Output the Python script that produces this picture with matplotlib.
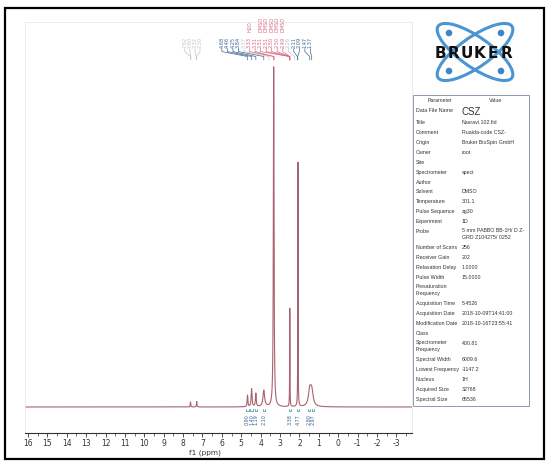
import numpy as np
import matplotlib
matplotlib.use("Agg")
import matplotlib.pyplot as plt
import matplotlib.transforms as mtransforms
from matplotlib.patches import Rectangle, Ellipse, Circle

# peak list (ppm, height relative to tallest = 100, half width in ppm)
peak_ppm = [7.62, 7.30, 4.68, 4.47, 4.25, 3.84, 3.33, 2.50, 2.08, 1.47, 1.37]
peak_height = [1.5, 1.6, 3.4, 5.3, 3.9, 4.8, 100.0, 29.0, 72.0, 4.6, 4.4]
peak_width = [0.015, 0.015, 0.02, 0.025, 0.025, 0.05, 0.02, 0.008, 0.008, 0.08, 0.08]

# integrals under the peaks
integ_ppm = [4.68, 4.47, 4.25, 3.84, 2.50, 2.08, 1.50, 1.30]
integ_vals = ['0.90', '1.40', '1.19', '2.10', '3.38', '4.77', '2.80', '2.97']

# peak picking labels on top
left_labels = ['7.62', '7.60', '7.32', '7.30']
left_targets = [7.62, 7.60, 7.32, 7.30]
right_labels = ['4.68', '4.46', '4.25', '3.84', '3.57', '3.33', '3.31', '2.51', '2.51',
                '2.50', '2.50', '2.49', '2.26', '2.11', '2.09', '1.47', '1.37']
right_targets = [4.68, 4.46, 4.25, 3.84, 3.57, 3.33, 3.31, 2.51, 2.51,
                 2.50, 2.50, 2.49, 2.26, 2.11, 2.09, 1.47, 1.37]
right_kind = ['b', 'b', 'b', 'b', 'g', 'p', 'p', 'p', 'p', 'p', 'p', 'p', 'g', 'b', 'b', 'b', 'b']
right_tags = ['', '', '', '', '', 'H2O', '', 'DMSO', 'DMSO', 'DMSO', 'DMSO', 'DMSO', '', '', '', '', '']

params = ['Data File Name', 'Title', 'Comment', 'Origin', 'Owner', 'Site', 'Spectrometer',
          'Author', 'Solvent', 'Temperature', 'Pulse Sequence', 'Experiment', 'Probe',
          'Number of Scans', 'Receiver Gain', 'Relaxation Delay', 'Pulse Width',
          'Presaturation\nFrequency', 'Acquisition Time', 'Acquisition Date',
          'Modification Date', 'Class', 'Spectrometer\nFrequency', 'Spectral Width',
          'Lowest Frequency', 'Nucleus', 'Acquired Size', 'Spectral Size']
values = ['CSZ', 'Nasravi.102.fid', 'Ruaida-code CSZ-', 'Bruker BioSpin GmbH', 'root', '',
          'spect', '', 'DMSO', '301.1', 'zg30', '1D',
          '5 mm PABBO BB-1H/ D Z-\nGRD Z104275/ 0252', '256', '202', '1.0000', '15.0000',
          '', '5.4526', '2018-10-09T14:41:00', '2018-10-16T23:55:41', '', '400.81',
          '6009.6', '-1147.2', '1H', '32768', '65536']

spec_color = '#a9626f'
blue = '#3f6794'
pink = '#d9697f'
grey = '#bcc3cb'
teal = '#2f8aa0'
ink = '#333333'

fig = plt.figure(figsize=(5.49, 4.62), dpi=100)
fig.patch.set_facecolor('white')

# spectrum
ax = fig.add_axes([25/549, 29/462, 387/549, 411/462])
ppm = np.linspace(16.15, -3.8, 20000)
y = np.zeros_like(ppm)
for c, h, w in zip(peak_ppm, peak_height, peak_width):
    y += h / (1 + ((ppm - c) / w) ** 2)
ax.plot(ppm, y, color=spec_color, lw=0.8)
ax.set_xlim(16.15, -3.8)
ax.set_ylim(-7.65, 113.2)
ax.set_yticks([])
for s in ['top', 'left', 'right']:
    ax.spines[s].set_color('#e4e4e4')
    ax.spines[s].set_linewidth(0.5)
ax.spines['bottom'].set_color(ink)
ax.spines['bottom'].set_linewidth(0.8)
ax.set_xticks(np.arange(16, -4, -1))
ax.set_xticklabels([str(v) for v in range(16, -4, -1)])
ax.set_xticks(np.arange(16, -3.6, -0.5), minor=True)
ax.tick_params(axis='x', which='major', length=3, width=0.6, labelsize=5.5, pad=1.5,
               colors=ink)
ax.tick_params(axis='x', which='minor', length=2, width=0.5, colors=ink)
fig.text(205/549, 1 - 453/462, 'f1 (ppm)', fontsize=5.3, ha='center', va='center',
         color=ink)

# integrals below the baseline
for p, v in zip(integ_ppm, integ_vals):
    ax.plot([p + 0.06, p + 0.06, p - 0.06, p - 0.06], [-0.7, -1.2, -1.2, -0.7],
            color=teal, lw=0.5)
    ax.text(p, -2.0, v, rotation=90, fontsize=3.5, ha='center', va='top', color=blue)

# peak labels with connectors
bt = mtransforms.blended_transform_factory(ax.transData, ax.transAxes)


def label_group(labels, targets, colors, tags, start_ppm, step):
    for i, (lab, tgt, col, tag) in enumerate(zip(labels, targets, colors, tags)):
        lx = start_ppm - i * step
        ax.text(lx, 0.937, lab, rotation=90, fontsize=3.6, ha='center', va='bottom',
                color=col, transform=bt, clip_on=False)
        if tag:
            ax.text(lx, 0.975, tag, rotation=90, fontsize=3.6, ha='center', va='bottom',
                    color=col, transform=bt, clip_on=False)
        ax.plot([lx, lx, tgt, tgt], [0.935, 0.928, 0.916, 0.908], color=col, lw=0.5,
                transform=bt, clip_on=False)


kind_col = {'b': blue, 'p': pink, 'g': grey}
label_group(left_labels, left_targets, [grey] * 4, [''] * 4, 7.91, 0.26)
label_group(right_labels, right_targets, [kind_col[k] for k in right_kind], right_tags,
            6.00, 0.285)

# overlay in pixel coordinates for the frame, logo and parameter table
ov = fig.add_axes([0, 0, 1, 1])
ov.set_xlim(0, 549)
ov.set_ylim(462, 0)
ov.axis('off')
ov.patch.set_alpha(0)
ov.add_patch(Rectangle((5, 8), 539, 451, fill=False, ec='black', lw=1.6))

# logo
for ang in [35, -35]:
    ov.add_patch(Ellipse((475, 52), 90, 30, angle=ang, fill=False, ec='#4a95d2', lw=2.2))
for cx, cy in [(449, 33), (501, 33), (449, 71), (501, 71)]:
    ov.add_patch(Circle((cx, cy), 2.6, color='#3f86c8'))
for i, ch in enumerate('BRUKER'):
    ov.text(440 + i * 13.3, 53, ch, fontsize=11, fontweight='heavy', ha='center',
            va='center', color='#111111', family='DejaVu Sans')

# parameter table
ov.add_patch(Rectangle((412.5, 95), 116, 311, fill=False, ec='#8d9bb2', lw=0.7))
ov.text(440, 100, 'Parameter', fontsize=3.8, ha='center', va='center', color=ink,
        family='Liberation Sans')
ov.text(496, 100, 'Value', fontsize=3.8, ha='center', va='center', color=ink,
        family='Liberation Sans')
ry = 110
for i, (pn, vv) in enumerate(zip(params, values)):
    if i == 0:
        ov.text(416, ry, pn, fontsize=3.8, ha='left', va='center', color=ink,
                family='Liberation Sans')
        ov.text(462, ry + 2, vv, fontsize=7, ha='left', va='center', color=ink,
                family='Liberation Sans')
        ry += 13
        continue
    for txt, xx in [(pn, 416), (vv, 462)]:
        if '\n' in txt:
            ov.text(xx, ry - 3.2, txt, fontsize=3.8, ha='left', va='top', color=ink,
                    family='Liberation Sans', linespacing=1.45)
        else:
            ov.text(xx, ry, txt, fontsize=3.8, ha='left', va='center', color=ink,
                    family='Liberation Sans')
    nl = max(pn.count('\n'), vv.count('\n')) + 1
    ry += 9.85 if nl == 1 else 16.6

fig.savefig('out.png', dpi=100)
